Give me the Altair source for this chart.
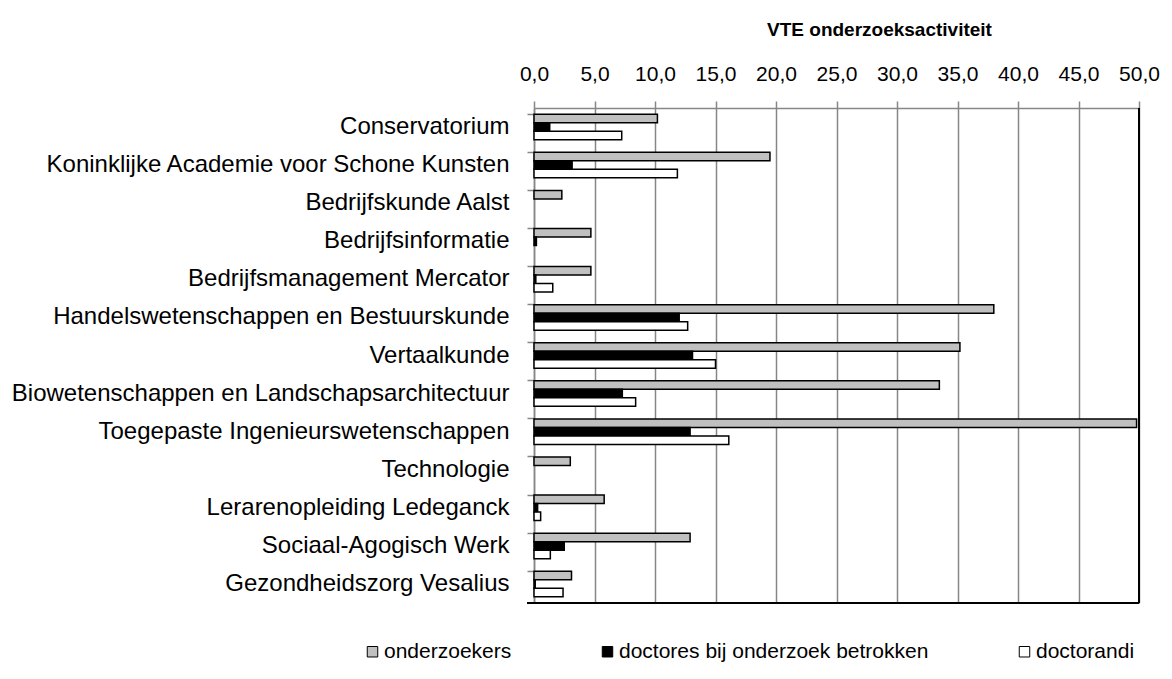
import altair as alt
import pandas as pd

categories = [
    "Conservatorium",
    "Koninklijke Academie voor Schone Kunsten",
    "Bedrijfskunde Aalst",
    "Bedrijfsinformatie",
    "Bedrijfsmanagement Mercator",
    "Handelswetenschappen en Bestuurskunde",
    "Vertaalkunde",
    "Biowetenschappen en Landschapsarchitectuur",
    "Toegepaste Ingenieurswetenschappen",
    "Technologie",
    "Lerarenopleiding Ledeganck",
    "Sociaal-Agogisch Werk",
    "Gezondheidszorg Vesalius",
]
series = ["onderzoekers", "doctores bij onderzoek betrokken", "doctorandi"]
onderzoekers = [10.2, 19.5, 2.3, 4.7, 4.7, 38.0, 35.2, 33.5, 49.8, 3.0, 5.8, 12.9, 3.1]
doctores = [1.3, 3.15, 0.0, 0.2, 0.15, 12.0, 13.1, 7.3, 12.9, 0.0, 0.3, 2.5, 0.1]
doctorandi = [7.25, 11.85, 0.0, 0.0, 1.55, 12.7, 15.0, 8.4, 16.1, 0.0, 0.55, 1.35, 2.4]
x_ticks = [0, 5, 10, 15, 20, 25, 30, 35, 40, 45, 50]
colors = ["#c0c0c0", "#000000", "#ffffff"]

rows = []
for s, vals in zip(series, [onderzoekers, doctores, doctorandi]):
    for c, v in zip(categories, vals):
        rows.append({"categorie": c, "reeks": s, "waarde": v})
df = pd.DataFrame(rows)

W, H = 605, 495
FONT = "Liberation Sans"

base = alt.Chart(df)

bars = base.mark_bar(stroke="black", strokeWidth=1.5).encode(
    y=alt.Y(
        "categorie:N",
        sort=categories,
        scale=alt.Scale(paddingInner=0.33, paddingOuter=0.165),
        axis=alt.Axis(
            title=None,
            bandPosition=0,
            tickSize=7,
            tickColor="#868686",
            domainColor="#868686",
            domainWidth=1.5,
            tickWidth=1.5,
            labelFontSize=24,
            labelFont=FONT,
            labelColor="black",
            labelPadding=18,
            labelLimit=600,
            grid=False,
        ),
    ),
    yOffset=alt.YOffset("reeks:N", sort=series),
    x=alt.X(
        "waarde:Q",
        scale=alt.Scale(domain=[0, 50], nice=False, zero=True),
        axis=alt.Axis(
            orient="top",
            values=x_ticks,
            labelExpr="replace(format(datum.value, '.1f'), '.', ',')",
            labelFlush=False,
            labelOverlap=False,
            title="VTE onderzoeksactiviteit",
            titleFont=FONT,
            titleFontSize=19,
            titleFontWeight="bold",
            titleColor="black",
            titlePadding=24,
            titleX=345,
            titleAlign="center",
            labelFont=FONT,
            labelFontSize=21,
            labelColor="black",
            labelPadding=17,
            tickSize=7,
            tickColor="#868686",
            tickWidth=1.5,
            domainColor="#868686",
            domainWidth=1.5,
            grid=True,
            gridColor="#868686",
            gridWidth=1.5,
        ),
    ),
    fill=alt.Fill(
        "reeks:N",
        sort=series,
        scale=alt.Scale(domain=series, range=colors),
        legend=alt.Legend(
            title=None,
            orient="none",
            legendX=-172,
            legendY=533,
            direction="horizontal",
            symbolType="square",
            symbolSize=110,
            symbolStrokeColor="black",
            symbolStrokeWidth=1,
            labelFont=FONT,
            labelFontSize=21,
            labelColor="black",
            labelOffset=1,
            labelLimit=600,
            columnPadding=85,
        ),
    ),
).transform_filter("datum.waarde > 0")

frame_df = pd.DataFrame({"k": [0]})
right_border = alt.Chart(frame_df).mark_rule(color="black", strokeWidth=2).encode(
    x=alt.value(W), y=alt.value(0), y2=alt.value(H)
)
bottom_border = alt.Chart(frame_df).mark_rule(color="black", strokeWidth=2).encode(
    x=alt.value(-7), x2=alt.value(W), y=alt.value(H)
)

chart = (
    alt.layer(bars, right_border, bottom_border)
    .properties(
        width=W,
        height=H,
        autosize=alt.AutoSizeParams(type="none"),
        padding={"left": 526, "top": 100, "right": 25, "bottom": 68},
    )
    .configure_view(stroke=None)
    .configure(font=FONT)
)

chart.save("out.html", embed_options={"renderer": "svg", "actions": False})
